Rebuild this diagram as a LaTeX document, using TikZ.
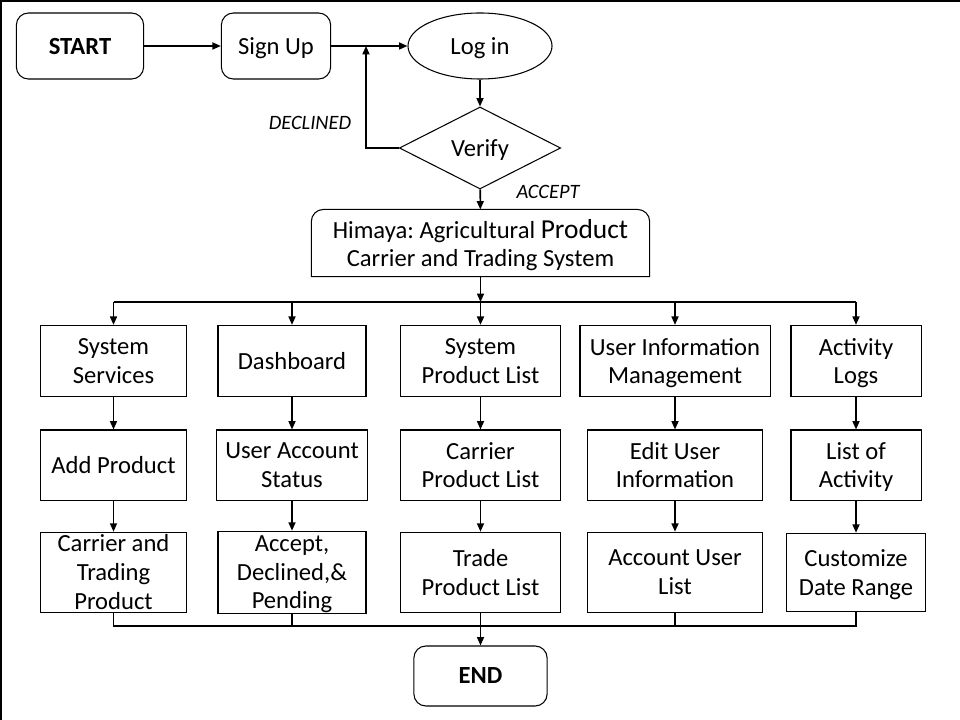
\documentclass[tikz,border=0pt]{standalone}
\usepackage{fontspec}
\setmainfont{Carlito}
\usepackage{tikz}
\usetikzlibrary{arrows,arrows.meta,shapes,positioning}
\tikzstyle{arrow} = [line width=1.1pt,->,>={Triangle[length=6pt,width=5pt]}]
\tikzstyle{line} = [line width=1.1pt]
\tikzstyle{process} = [rectangle, draw, line width=0.75pt, align=center, inner sep=0pt, text depth=0pt, font=\fontsize{17.5}{20.5}\selectfont]
\tikzstyle{terminal} = [process, rounded corners=0.3cm]
\tikzstyle{decision} = [diamond, draw, line width=0.75pt, inner sep=0pt, text depth=0pt, font=\fontsize{17.5}{20.5}\selectfont]
\tikzstyle{tag} = [font=\fontsize{14.5}{16}\selectfont\itshape]

\begin{document}
\frenchspacing
\begin{tikzpicture}[x=0.025cm, y=-0.025cm]
\useasboundingbox (0,0) rectangle (960,720);
\draw[line width=1.5pt] (1,720) -- (1,1) -- (960,1);

% login part
\node (start) [terminal, minimum width=3.18cm, minimum height=1.65cm] at (80,46) {\bfseries START};
\node (signup) [terminal, minimum width=2.73cm, minimum height=1.65cm] at (276,46) {Sign Up};
\node (login) [ellipse, draw, line width=0.75pt, inner sep=0pt, text depth=0pt, minimum width=3.6cm, minimum height=1.65cm, font=\fontsize{17.5}{20.5}\selectfont] at (480,46) {Log in};
\node (verify) [decision, minimum width=4.03cm, minimum height=2.05cm] at (480,148) {Verify};
\node (himaya) [process, draw=none, minimum width=8.43cm, minimum height=1.65cm] at (480.5,243) {Himaya: Agricultural {\fontsize{19.5}{20.5}\selectfont Product}\\Carrier and Trading System};
\draw[line width=0.75pt] (himaya.south west) {[rounded corners=0.3cm] -- (himaya.north west) -- (himaya.north east)} -- (himaya.south east) -- cycle;

\coordinate (back) at (366,46);
\draw[arrow] (start) -- (signup);
\draw[arrow] (signup) -- (login);
\draw[arrow] (login) -- (verify);
\draw[arrow] (verify.west) -| (back);
\draw[arrow] (verify) -- (himaya);
\node (declined) [tag] at (310,123) {DECLINED};
\node (accept) [tag] at (548,192) {ACCEPT};

% five columns
\node (services) [process, minimum width=3.63cm, minimum height=1.78cm] at (113.5,361) {System\\Services};
\node (addprod) [process, below of=services, node distance=2.6cm, minimum width=3.63cm, minimum height=1.75cm] {Add Product};
\node (ctp) [process, below of=addprod, node distance=2.68cm, minimum width=3.63cm, minimum height=2cm] {Carrier and\\Trading\\Product};

\node (dashboard) [process, minimum width=3.7cm, minimum height=1.78cm] at (292,361) {Dashboard};
\node (status) [process, below of=dashboard, node distance=2.6cm, minimum width=3.78cm, minimum height=1.75cm] {User Account\\Status};
\node (pending) [process, below of=status, node distance=2.68cm, minimum width=3.7cm, minimum height=2.05cm] {Accept,\\Declined,\&\\Pending};

\node (sysprod) [process, minimum width=3.98cm, minimum height=1.78cm] at (480.5,361) {System\\Product List};
\node (carprod) [process, below of=sysprod, node distance=2.6cm, minimum width=3.98cm, minimum height=1.75cm] {Carrier\\Product List};
\node (trade) [process, below of=carprod, node distance=2.68cm, minimum width=4cm, minimum height=2cm] {Trade\\Product List};

\node (uim) [process, minimum width=4.75cm, minimum height=1.78cm] at (675,361) {User Information\\Management};
\node (edituser) [process, below of=uim, node distance=2.6cm, minimum width=4.38cm, minimum height=1.75cm] {Edit User\\Information};
\node (acclist) [process, below of=edituser, node distance=2.68cm, minimum width=4.38cm, minimum height=2cm] {Account User\\List};

\node (logs) [process, minimum width=3.25cm, minimum height=1.78cm] at (856,361) {Activity\\Logs};
\node (actlist) [process, below of=logs, node distance=2.6cm, minimum width=3.25cm, minimum height=1.75cm] {List of\\Activity};
\node (range) [process, below of=actlist, node distance=2.68cm, minimum width=3.48cm, minimum height=1.95cm] {Customize\\Date Range};

\node (end) [terminal, minimum width=3.33cm, minimum height=1.5cm] at (480.5,676) {\bfseries END};

% top split
\coordinate (top) at (480.5,302);
\draw[arrow] (himaya) -- (top);
\draw[line] (services.north |- top) -- (logs.north |- top);
\foreach \n in {services,dashboard,sysprod,uim,logs}
  \draw[arrow] (\n.north |- top) -- (\n);

% down each column
\draw[arrow] (services) -- (addprod);
\draw[arrow] (addprod) -- (ctp);
\draw[arrow] (dashboard) -- (status);
\draw[arrow] (status) -- (pending);
\draw[arrow] (sysprod) -- (carprod);
\draw[arrow] (carprod) -- (trade);
\draw[arrow] (uim) -- (edituser);
\draw[arrow] (edituser) -- (acclist);
\draw[arrow] (logs) -- (actlist);
\draw[arrow] (actlist) -- (range);

% bottom join
\coordinate (bot) at (480.5,626);
\draw[line] (ctp.south) -- (ctp.south |- bot) -- (range.south |- bot) -- (range.south);
\draw[line] (pending.south) -- (pending.south |- bot);
\draw[line] (acclist.south) -- (acclist.south |- bot);
\draw[arrow] (trade) -- (end);
\end{tikzpicture}
\end{document}
